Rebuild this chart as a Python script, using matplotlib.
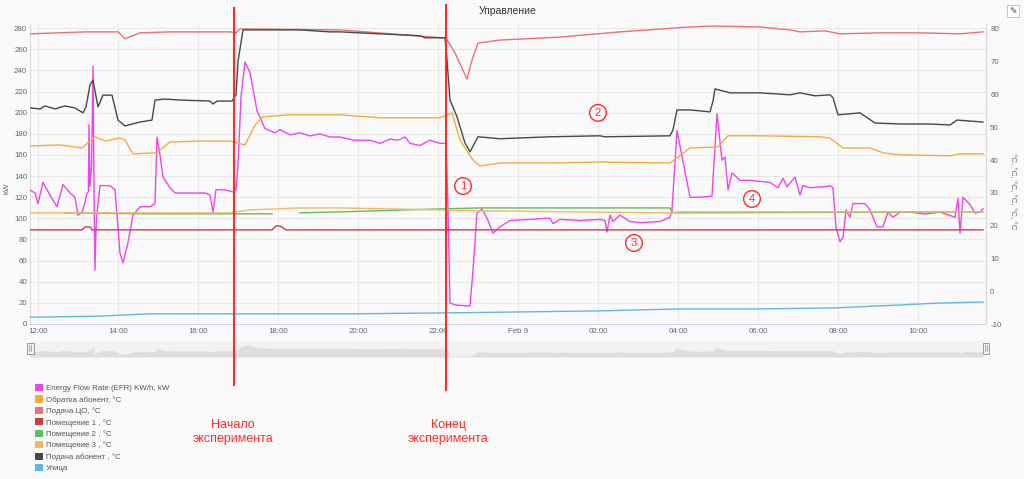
import numpy as np
import matplotlib
matplotlib.use('Agg')
import matplotlib.pyplot as plt
from matplotlib.patches import Patch, Rectangle
from matplotlib import transforms

plt.rcParams['font.family'] = ['Liberation Sans', 'DejaVu Sans']
plt.rcParams['axes.unicode_minus'] = False

# ---------------------------------------------------------------------------
# Data (time = hours after 12:00, 8 Feb)
# ---------------------------------------------------------------------------
EFR_T = [-0.2, -0.075, 0.0, 0.125, 0.3, 0.475, 0.625, 0.8, 0.925, 1.0, 1.1, 1.175,
         1.225, 1.26, 1.275, 1.3, 1.34, 1.375, 1.4, 1.425, 1.45, 1.475, 1.55, 1.8,
         1.925, 2.05, 2.125, 2.25, 2.375, 2.55, 2.8, 2.925, 2.975, 3.05, 3.125, 3.3,
         3.425, 3.8, 4.175, 4.3, 4.375, 4.45, 4.675, 4.875, 4.95, 5.0, 5.075, 5.175,
         5.3, 5.475, 5.675, 5.925, 6.05, 6.3, 6.55, 6.8, 7.05, 7.3, 7.55, 7.9, 8.3,
         8.55, 8.8, 9.0, 9.175, 9.3, 9.55, 9.8, 10.05, 10.2, 10.25, 10.3, 10.425,
         10.8, 10.875, 10.975, 11.1, 11.25, 11.375, 11.55, 11.8, 12.3, 12.675, 12.8,
         12.875, 13.05, 13.55, 14.05, 14.175, 14.225, 14.3, 14.375, 14.55, 14.8,
         15.05, 15.55, 15.8, 15.85, 15.975, 16.3, 16.55, 16.85, 16.975, 17.1, 17.175,
         17.25, 17.35, 17.55, 17.8, 18.3, 18.5, 18.625, 18.725, 18.925, 19.05,
         19.125, 19.3, 19.675, 19.8, 19.875, 19.95, 20.05, 20.125, 20.2, 20.3,
         20.375, 20.675, 20.8, 20.975, 21.125, 21.25, 21.375, 21.55, 21.8, 22.175,
         22.55, 22.925, 23.0, 23.05, 23.125, 23.3, 23.425, 23.55, 23.625]
EFR_KW = [127, 124, 114, 134, 122, 111, 132, 124, 120, 103, 106, 115,
          124, 125, 189, 130, 150, 244, 130, 51, 90, 105, 131, 131,
          127, 67, 58, 77, 103, 111, 111, 114, 177, 160, 139, 129,
          124, 124, 124, 122, 106, 127, 127, 125, 127, 150, 215, 248,
          238, 202, 185, 181, 184, 179, 181, 178, 180, 177, 177, 174, 174,
          171, 175, 174, 177, 171, 169, 174, 171, 171, 110, 20, 18,
          17, 51, 105, 109, 98, 86, 92, 98, 99, 100, 100,
          95, 99, 98, 99, 98, 87, 103, 97, 103, 97,
          96, 97, 101, 108, 183, 120, 120, 121, 199, 155, 158,
          127, 143, 136, 136, 134, 129, 138, 130, 139, 122,
          131, 129, 130, 131, 129, 91, 78, 82, 108, 101,
          114, 114, 108, 92, 92, 106, 101, 106, 106, 104,
          106, 101, 119, 86, 120, 113, 105, 106, 109]

RET_T = [-0.2, 0.55, 1.1, 1.425, 1.675, 2.05, 2.175, 2.375, 2.925, 3.05, 3.3, 4.05,
         4.8, 5.175, 5.425, 5.625, 6.3, 7.55, 8.55, 10.05, 10.35, 10.55, 10.875,
         11.05, 11.55, 12.8, 14.05, 15.8, 16.0, 16.3, 17.0, 17.25, 18.05, 19.55,
         19.8, 20.125, 20.8, 21.125, 21.55, 22.8, 23.05, 23.625]
RET_C = [44.3, 44.6, 43.7, 47.1, 45.8, 46.7, 46.1, 41.9, 42.2, 43.1, 45.5, 45.8,
         45.8, 44.6, 50.7, 53.2, 53.8, 53.8, 52.9, 52.9, 54.4, 46.1, 40.0,
         38.2, 39.1, 39.1, 39.4, 39.1, 40.9, 43.7, 44.0, 47.4, 47.4, 47.1,
         46.7, 43.7, 43.7, 42.2, 41.6, 41.3, 41.9, 41.9]

CO_T = [-0.2, 1.2, 2.0, 2.175, 2.55, 3.3, 4.8, 4.95, 5.05, 7.55, 10.2, 10.425,
        10.725, 10.85, 11.0, 11.55, 13.05, 14.55, 16.3, 16.9, 18.05, 18.8, 19.05,
        19.675, 20.05, 21.05, 22.05, 23.05, 23.625]
CO_C = [78.5, 79.1, 79.1, 77.0, 78.8, 79.1, 79.1, 78.8, 80.0, 79.7, 77.2, 72.7,
        64.7, 70.5, 75.7, 76.6, 77.5, 79.1, 80.6, 80.9, 80.6, 79.7, 79.1,
        79.4, 78.5, 78.8, 78.8, 78.5, 79.1]

ROOM1_T = [-0.2, 1.1, 1.175, 1.3, 1.35, 5.85, 5.95, 6.05, 6.2, 23.625]
ROOM1_C = [18.7, 18.7, 19.6, 19.6, 18.7, 18.7, 19.9, 19.9, 18.7, 18.7]

ROOM2_T = [0.675, 2.8, 4.05, 5.85, 6.2, 6.55, 7.55, 10.05, 11.05, 15.8, 15.875, 23.625]
ROOM2_C = [23.9, 23.6, 23.6, 23.6, np.nan, 23.9, 24.2, 25.1, 25.4, 25.4, 23.9, 24.2]

ROOM3_T = [-0.2, 4.8, 5.3, 6.55, 7.55, 10.05, 11.05, 15.8, 16.05, 23.625]
ROOM3_C = [23.9, 23.9, 24.8, 25.4, 25.4, 24.8, 24.5, 23.9, 24.2, 24.2]

SUP_T = [-0.2, 0.05, 0.175, 0.425, 0.675, 0.925, 1.125, 1.2, 1.3, 1.375, 1.5, 1.625,
         1.85, 2.0, 2.175, 2.55, 2.85, 2.925, 3.175, 3.55, 4.3, 4.375, 4.475, 4.85,
         4.95, 5.0, 5.125, 5.55, 6.55, 7.3, 7.55, 8.55, 9.55, 9.675, 10.175, 10.225,
         10.3, 10.475, 10.675, 10.8, 11.0, 11.55, 12.8, 14.05, 14.175, 15.8, 15.875,
         15.975, 16.3, 16.8, 16.875, 16.925, 17.3, 18.05, 18.8, 19.05, 19.425, 19.8,
         19.875, 20.0, 20.55, 20.925, 21.55, 22.3, 22.8, 22.975, 23.625]
SUP_C = [55.9, 55.6, 56.5, 55.6, 56.5, 55.9, 54.4, 56.2, 62.9, 64.4, 56.2, 59.8,
         59.8, 52.2, 50.4, 51.6, 52.2, 58.3, 58.6, 58.3, 58.0, 57.1, 58.0, 58.0,
         59.9, 70.0, 79.7, 79.7, 79.7, 79.1, 79.1, 78.5, 77.9, 77.3, 77.3, 70.5,
         58.3, 53.2, 45.2, 42.5, 47.1, 46.5, 47.1, 47.4, 47.1, 47.4, 49.2,
         55.3, 55.3, 54.7, 58.0, 61.7, 60.5, 60.5, 59.9, 60.5, 59.6, 59.9,
         59.0, 53.8, 54.4, 51.3, 51.0, 51.0, 50.7, 52.2, 51.6]

OUT_T = [-0.2, 0.05, 1.55, 2.8, 4.875, 6.55, 7.8, 10.3, 14.05, 16.05, 18.05, 19.9,
         21.55, 22.55, 23.625]
OUT_C = [-7.9, -7.9, -7.6, -6.9, -6.9, -6.9, -6.9, -6.6, -6.0, -5.4, -5.4, -5.1,
         -4.2, -3.6, -3.3]

X_TICKS = [0, 2, 4, 6, 8, 10, 12, 14, 16, 18, 20, 22]
X_LABELS = ['12:00', '14:00', '16:00', '18:00', '20:00', '22:00', 'Feb 9',
            '02:00', '04:00', '06:00', '08:00', '10:00']
KW_TICKS = list(range(0, 281, 20))
C_TICKS = list(range(-10, 81, 10))

EXP_START = 4.9
EXP_END = 10.2

MARK_LABELS = ['1', '2', '3', '4']
MARK_T = [10.625, 14.0, 14.9, 17.85]
MARK_KW = [130.6, 199.9, 76.7, 118.4]

# ---------------------------------------------------------------------------
# Style
# ---------------------------------------------------------------------------
BG = '#fafafa'
TXT = '#666666'
RED = '#ff2b2b'

TEMP_SERIES = [
    ('Обратка абонент, °C', RET_T, RET_C, '#f4ac3c'),
    ('Подача ЦО, °C', CO_T, CO_C, '#ea7079'),
    ('Помещение 1 , °C', ROOM1_T, ROOM1_C, '#cf3a48'),
    ('Помещение 2 , °C', ROOM2_T, ROOM2_C, '#64bb64'),
    ('Помещение 3 , °C', ROOM3_T, ROOM3_C, '#f3b862'),
    ('Подача абонент , °C', SUP_T, SUP_C, '#3f4d40'),
    ('Улица', OUT_T, OUT_C, '#62b6e6'),
]
EFR_LABEL = 'Energy Flow Rate (EFR) KW/h, kW'
EFR_COLOR = '#ec45ec'

W, H = 1024, 479
fig = plt.figure(figsize=(W / 100, H / 100), dpi=100, facecolor=BG)

ax = fig.add_axes([30 / W, 1 - 324 / H, 956 / W, 300 / H])
ax.set_facecolor(BG)
ax.plot(EFR_T, EFR_KW, color=EFR_COLOR, lw=1.0, zorder=3)
ax.set_xlim(-0.2, 23.7)
ax.set_ylim(0, 284)
ax.set_yticks(KW_TICKS)
ax.set_xticks(X_TICKS)
ax.set_xticklabels(X_LABELS)
ax.grid(True, color='#e8e8e8', lw=0.8)
ax.set_axisbelow(True)
ax.tick_params(axis='both', length=0, labelsize=5.7, labelcolor=TXT)
ax.tick_params(axis='y', pad=2)
ax.tick_params(axis='x', pad=3)
ax.spines['top'].set_visible(False)
for side in ('left', 'right'):
    ax.spines[side].set_color('#d8d8d8')
    ax.spines[side].set_linewidth(0.8)
ax.spines['bottom'].set_color('#ccd6eb')
ax.spines['bottom'].set_linewidth(0.8)

ax2 = ax.twinx()
ax2.patch.set_visible(False)
for label, ts, vs, col in TEMP_SERIES:
    ax2.plot(ts, vs, color=col, lw=1.0)
ax2.set_ylim(-10, 81.5)
ax2.set_yticks(C_TICKS)
ax2.tick_params(axis='y', length=0, labelsize=5.7, labelcolor=TXT, pad=3)
for side in ('top', 'left', 'bottom'):
    ax2.spines[side].set_visible(False)
ax2.spines['right'].set_color('#d8d8d8')
ax2.spines['right'].set_linewidth(0.8)

ax.set_title('Управление', fontsize=7.5, color='#333333', pad=7)
fig.text(7 / W, 1 - 188 / H, 'kW', rotation=90, fontsize=5.7, color=TXT,
         ha='center', va='center')
fig.text(1012 / W, 1 - 191 / H, '°C, °C, °C, °C, °C, °C', rotation=270,
         fontsize=5.8, color=TXT, ha='center', va='center')

# circled markers
for lab, t, v in zip(MARK_LABELS, MARK_T, MARK_KW):
    ax.text(t, v, lab, fontsize=8, color=RED, ha='center', va='center', zorder=6,
            bbox=dict(boxstyle='circle,pad=0.3', fc=BG, ec=RED, lw=1.0))

# navigator
nav = fig.add_axes([30 / W, 1 - 357 / H, 956 / W, 16 / H])
nav.set_facecolor('#f2f2f2')
nav.fill_between(EFR_T, EFR_KW, color='#dedede', lw=0)
nav.set_xlim(-0.2, 23.7)
nav.set_ylim(0, 330)
nav.set_xticks([])
nav.set_yticks([])
for s in nav.spines.values():
    s.set_visible(False)
for hx in (0.0, 1.0):
    nav.add_patch(Rectangle((hx - 3.5 / 956, 0.2), 7 / 956, 0.68,
                            transform=nav.transAxes, clip_on=False,
                            fc='#f2f2f2', ec='#999999', lw=0.7, zorder=5))
    for dx in (-1 / 956, 1 / 956):
        nav.plot([hx + dx, hx + dx], [0.35, 0.72], transform=nav.transAxes,
                 clip_on=False, color='#888888', lw=0.5, zorder=6)

# experiment markers (x in data, y in figure)
blend = transforms.blended_transform_factory(ax.transData, fig.transFigure)
fig.add_artist(plt.Line2D([EXP_START, EXP_START], [1 - 8 / H, 1 - 385 / H],
                          transform=blend, color=RED, lw=1.5))
fig.add_artist(plt.Line2D([EXP_END, EXP_END], [1 - 5 / H, 1 - 390 / H],
                          transform=blend, color=RED, lw=1.5))
fig.text(EXP_START - 0.03, 1 - 432 / H, 'Начало\nэксперимента', transform=blend,
         color=RED, fontsize=9, ha='center', va='center', linespacing=1.15)
fig.text(EXP_END + 0.05, 1 - 432 / H, 'Конец\nэксперимента', transform=blend,
         color=RED, fontsize=9, ha='center', va='center', linespacing=1.15)

# legend
handles = [Patch(facecolor=EFR_COLOR, label=EFR_LABEL)]
handles += [Patch(facecolor=col, label=label) for label, _, _, col in TEMP_SERIES]
fig.legend(handles=handles, loc='upper left', bbox_to_anchor=(35 / W, 1 - 384 / H),
           frameon=False, fontsize=5.7, labelcolor='#555555', handlelength=1.0,
           handleheight=1.0, handletextpad=0.4, labelspacing=0.4,
           borderpad=0, borderaxespad=0)

# edit icon
fig.text(1013 / W, 1 - 11 / H, '✎', family='DejaVu Sans', fontsize=6.5,
         color='#444444', ha='center', va='center',
         bbox=dict(boxstyle='square,pad=0.2', fc='white', ec='#bbbbbb', lw=0.6))

fig.savefig('out.png', dpi=100, facecolor=BG)
